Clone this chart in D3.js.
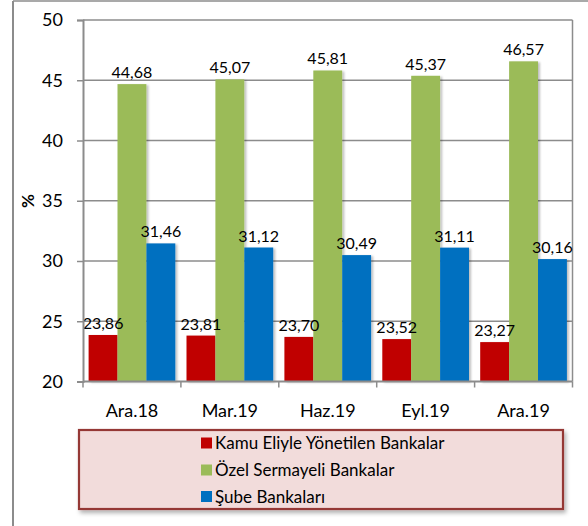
<!DOCTYPE html>
<html>
<head>
<meta charset="utf-8">
<script src="https://cdn.jsdelivr.net/npm/d3@7"></script>
<style>
	body { margin: 0; background: #fff; }
	svg text { font-family: Lato, "Open Sans", sans-serif; fill: #000; }
</style>
</head>
<body>
<svg id="chart" width="588" height="526"></svg>
<script>
// data
var categories = ["Ara.18", "Mar.19", "Haz.19", "Eyl.19", "Ara.19"];
var seriesNames = ["Kamu Eliyle Yönetilen Bankalar", "Özel Sermayeli Bankalar", "Şube Bankaları"];
var kamu = [23.86, 23.81, 23.70, 23.52, 23.27];
var ozel = [44.68, 45.07, 45.81, 45.37, 46.57];
var sube = [31.46, 31.12, 30.49, 31.11, 30.16];
var yTicks = [20, 25, 30, 35, 40, 45, 50];
var colors = ["#c00000", "#9bbb59", "#0070c0"];

var seriesValues = [kamu, ozel, sube];

var svg = d3.select("#chart");
var plot = { left: 83, top: 20, right: 572.5, bottom: 381.5 };

// drop shadows
var defs = svg.append("defs");
var sh = defs.append("filter").attr("id", "barShadow")
	.attr("x", "-20%").attr("y", "-5%").attr("width", "150%").attr("height", "115%");
sh.append("feDropShadow").attr("dx", 2).attr("dy", 1).attr("stdDeviation", 1.2)
	.attr("flood-color", "#000").attr("flood-opacity", 0.25);
var lsh = defs.append("filter").attr("id", "legShadow")
	.attr("x", "-5%").attr("y", "-10%").attr("width", "115%").attr("height", "140%");
lsh.append("feDropShadow").attr("dx", 2).attr("dy", 3).attr("stdDeviation", 2)
	.attr("flood-color", "#000").attr("flood-opacity", 0.3);

// outer frame (top and left edges visible)
svg.append("line").attr("x1", 13).attr("y1", 1).attr("x2", 588).attr("y2", 1)
	.attr("stroke", "#8c8c8c").attr("stroke-width", 1.5);
svg.append("line").attr("x1", 13).attr("y1", 1).attr("x2", 13).attr("y2", 526)
	.attr("stroke", "#8c8c8c").attr("stroke-width", 2);

var x0 = d3.scaleBand().domain(categories).range([plot.left, plot.right]).padding(0);
var x1 = d3.scaleBand().domain(d3.range(seriesNames.length))
	.range([5.6, x0.bandwidth() - 5.6]).padding(0);
var y = d3.scaleLinear().domain([20, 50]).range([plot.bottom, plot.top]);

// grid
svg.append("g").selectAll("line").data(yTicks.slice(1)).enter().append("line")
	.attr("x1", plot.left).attr("x2", plot.right)
	.attr("y1", function(d){ return y(d); }).attr("y2", function(d){ return y(d); })
	.attr("stroke", "#8c8c8c").attr("stroke-width", 1.5);
// right border of plot area
svg.append("line").attr("x1", plot.right).attr("x2", plot.right)
	.attr("y1", plot.top).attr("y2", plot.bottom)
	.attr("stroke", "#8c8c8c").attr("stroke-width", 1.5);

// bars
var groups = svg.append("g").selectAll("g").data(categories).enter().append("g")
	.attr("transform", function(d){ return "translate(" + x0(d) + ",0)"; });

groups.each(function(cat, ci){
	var g = d3.select(this);
	seriesValues.forEach(function(vals, si){
		g.append("rect")
			.attr("x", x1(si))
			.attr("y", y(vals[ci]))
			.attr("width", x1.bandwidth())
			.attr("height", y(20) - y(vals[ci]))
			.attr("fill", colors[si])
			.attr("filter", "url(#barShadow)");
	});
});
groups.each(function(cat, ci){
	var g = d3.select(this);
	seriesValues.forEach(function(vals, si){
		g.append("text")
			.attr("x", x1(si) + x1.bandwidth() / 2)
			.attr("y", y(vals[ci]) - 6)
			.attr("text-anchor", "middle")
			.style("font-size", "16px")
			.text(vals[ci].toFixed(2).replace(".", ","));
	});
});

// y axis
var yAxis = d3.axisLeft(y).tickValues(yTicks).tickSize(6).tickPadding(14);
var ya = svg.append("g").attr("transform", "translate(" + plot.left + ",0)").call(yAxis);
ya.select(".domain").attr("stroke", "#8c8c8c").attr("stroke-width", 2);
ya.selectAll(".tick line").attr("stroke", "#8c8c8c").attr("stroke-width", 1.5);
ya.selectAll(".tick text").style("font-size", "18px").style("font-family", "Lato, sans-serif");

// x axis with ticks at category boundaries
svg.append("line").attr("x1", plot.left).attr("x2", plot.right)
	.attr("y1", plot.bottom).attr("y2", plot.bottom)
	.attr("stroke", "#8c8c8c").attr("stroke-width", 2);
svg.append("g").selectAll("line").data(categories.concat([null])).enter().append("line")
	.attr("x1", function(d, i){ return plot.left + i * x0.bandwidth(); })
	.attr("x2", function(d, i){ return plot.left + i * x0.bandwidth(); })
	.attr("y1", plot.bottom).attr("y2", plot.bottom + 6)
	.attr("stroke", "#8c8c8c").attr("stroke-width", 1.5);
svg.append("g").selectAll("text").data(categories).enter().append("text")
	.attr("x", function(d){ return x0(d) + x0.bandwidth() / 2; })
	.attr("y", 417)
	.attr("text-anchor", "middle")
	.style("font-size", "18px")
	.text(function(d){ return d; });

// y title
svg.append("text")
	.attr("transform", "translate(34,201) rotate(-90)")
	.attr("text-anchor", "middle")
	.style("font-size", "17px")
	.style("font-weight", "bold")
	.text("%");

// legend
var leg = svg.append("g");
leg.append("rect").attr("x", 79).attr("y", 430).attr("width", 484).attr("height", 79)
	.attr("fill", "#f2dcdb").attr("stroke", "#953735").attr("stroke-width", 2.2)
	.attr("filter", "url(#legShadow)");
var rowY = [443, 470, 496.5];
seriesNames.forEach(function(name, i){
	leg.append("rect").attr("x", 201).attr("y", rowY[i] - 5.5).attr("width", 11).attr("height", 11)
		.attr("fill", colors[i]);
	leg.append("text").attr("x", 215).attr("y", rowY[i] + 6)
		.style("font-size", "17px")
		.text(name);
});
</script>
</body>
</html>
